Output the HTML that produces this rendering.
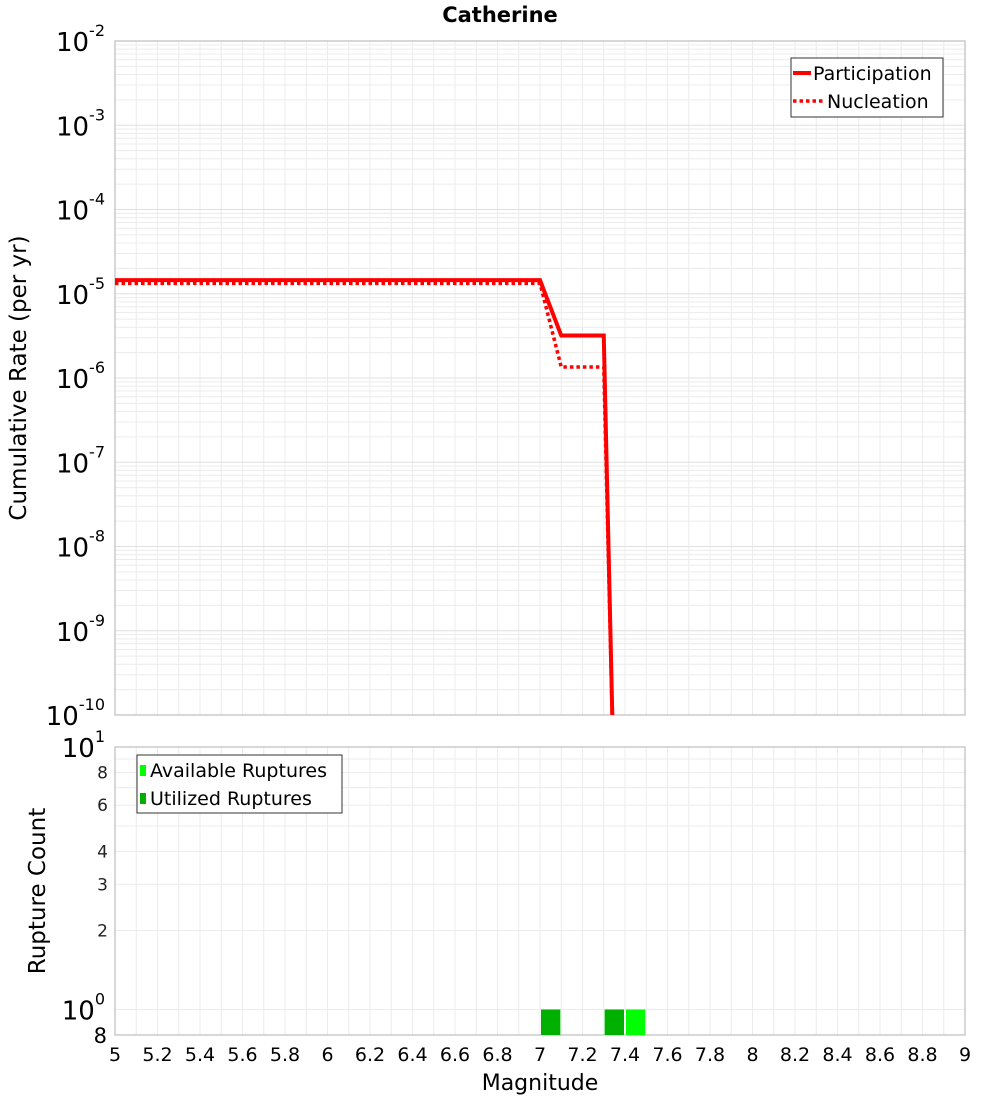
<!DOCTYPE html>
<html><head><meta charset="utf-8"><style>
body{margin:0;background:#fff;font-family:"Liberation Sans","DejaVu Sans",sans-serif}
svg text{font-family:"DejaVu Sans","Liberation Sans",sans-serif}
</style></head><body>
<svg id="c" width="1000" height="1100" xmlns="http://www.w3.org/2000/svg"></svg>
<script>
const mags=[5.0,7.0,7.1,7.3,7.35];
const participation=[1.45e-5,1.45e-5,3.2e-6,3.2e-6,8e-12];
const nucleation=[1.33e-5,1.33e-5,1.35e-6,1.35e-6,8e-12];
const availMags=[7.05,7.35,7.45];
const availCounts=[1,1,1];
const usedMags=[7.05,7.35];
const usedCounts=[1,1];
const xTicks=[5,5.2,5.4,5.6,5.8,6,6.2,6.4,6.6,6.8,7,7.2,7.4,7.6,7.8,8,8.2,8.4,8.6,8.8,9];
const yExps=[-2,-3,-4,-5,-6,-7,-8,-9,-10];
const countTicks=[2,3,4,6,8];

const S=document.getElementById('c'),NS='http://www.w3.org/2000/svg';
function mk(t,a,p){const e=document.createElementNS(NS,t);for(const k in a)e.setAttribute(k,a[k]);(p||S).appendChild(e);return e;}
const L=115,R=965,T1=41,B1=715,T2=747,B2=1035;
const X=m=>L+(m-5)/4*(R-L);
const Y1=v=>T1+(-2-Math.log10(v))*(B1-T1)/8;
const D2=262.5;const Y2=v=>T2+(1-Math.log10(v))*D2;

const defs=mk('defs',{});
const c1=mk('clipPath',{id:'c1'},defs);mk('rect',{x:L,y:T1,width:R-L,height:B1-T1},c1);
const c2=mk('clipPath',{id:'c2'},defs);mk('rect',{x:L,y:T2,width:R-L,height:B2-T2},c2);

for(let i=0;i<=40;i++){const x=L+i*(R-L)/40;const g=mk('line',{x1:x,x2:x,y1:T1,y2:B1,stroke:'#ececec','stroke-width':1});

}
for(let e=-10;e<-2;e++)for(let k=1;k<10;k++){const y=Y1(k*Math.pow(10,e));const g=mk('line',{x1:L,x2:R,y1:y,y2:y,stroke:k==1?'#e0e0e0':'#ececec','stroke-width':1});

}
for(let i=0;i<=40;i++){const x=L+i*(R-L)/40;const g=mk('line',{x1:x,x2:x,y1:T2,y2:B2,stroke:'#ececec','stroke-width':1});

}
for(let k=1;k<10;k++){const y=Y2(k);const g=mk('line',{x1:L,x2:R,y1:y,y2:y,stroke:'#ececec','stroke-width':1});

}

let f=mk('rect',{x:L,y:T1,width:R-L,height:B1-T1,fill:'none',stroke:'#b0b0b0'});

f=mk('rect',{x:L,y:T2,width:R-L,height:B2-T2,fill:'none',stroke:'#b0b0b0'});


function pts(xs,ys,fy){return xs.map((m,i)=>X(m)+','+fy(ys[i])).join(' ');}
let p=mk('polyline',{points:pts(mags,nucleation,Y1),fill:'none',stroke:'#ff0000','stroke-width':3.5,'stroke-dasharray':'3.5,3','clip-path':'url(#c1)'});

p=mk('polyline',{points:pts(mags,participation,Y1),fill:'none',stroke:'#ff0000','stroke-width':4,'clip-path':'url(#c1)'});


const bw=(R-L)/40;
availMags.forEach((m,i)=>{const y=Y2(availCounts[i]);const b=mk('rect',{x:X(m)-bw/2+1,y:y,width:bw-2,height:B2-y,fill:'#00ff00','clip-path':'url(#c2)'});
});
usedMags.forEach((m,i)=>{const y=Y2(usedCounts[i]);const b=mk('rect',{x:X(m)-bw/2+1,y:y,width:bw-2,height:B2-y,fill:'#00b000','clip-path':'url(#c2)'});
});

xTicks.forEach(t=>{const e=mk('text',{x:X(t),y:1061,'font-size':19,'text-anchor':'middle',fill:'#000'});e.textContent=String(t);
});
yExps.forEach(ex=>{const y=Y1(Math.pow(10,ex));const e=mk('text',{x:105,y:y+10,'font-size':26,'text-anchor':'end',fill:'#000'});
e.textContent='10';
const s=mk('tspan',{dy:-15,'font-size':16},e);s.textContent=String(ex);});
let e=mk('text',{x:105,y:Y2(10)+10,'font-size':26,'text-anchor':'end'});e.textContent='10';

let s=mk('tspan',{dy:-15,'font-size':16},e);s.textContent='1';
e=mk('text',{x:105,y:Y2(1)+10,'font-size':26,'text-anchor':'end'});e.textContent='10';

s=mk('tspan',{dy:-15,'font-size':16},e);s.textContent='0';
e=mk('text',{x:107,y:1043,'font-size':21,'text-anchor':'end'});e.textContent='8';

countTicks.forEach(c=>{const t=mk('text',{x:108,y:Y2(c)+6,'font-size':17,'text-anchor':'end',fill:'#222'});t.textContent=String(c);
});

e=mk('text',{x:500,y:22,'font-size':21,'font-weight':'bold','text-anchor':'middle'});e.textContent='Catherine';

e=mk('text',{x:540,y:1090,'font-size':22,'text-anchor':'middle'});e.textContent='Magnitude';

e=mk('text',{x:0,y:0,'font-size':23,'text-anchor':'middle',transform:'translate(26,378) rotate(-90)'});e.textContent='Cumulative Rate (per yr)';

e=mk('text',{x:0,y:0,'font-size':23,'text-anchor':'middle',transform:'translate(45,891) rotate(-90)'});e.textContent='Rupture Count';


let g=mk('g',{});
mk('rect',{x:791,y:58,width:152,height:59,fill:'#fff',stroke:'#333'},g);
mk('line',{x1:793,x2:811,y1:73,y2:73,stroke:'#f00','stroke-width':4},g);
mk('line',{x1:793,x2:825,y1:101,y2:101,stroke:'#f00','stroke-width':3.5,'stroke-dasharray':'3.5,3'},g);
e=mk('text',{x:813,y:80,'font-size':19},g);e.textContent='Participation';

e=mk('text',{x:827,y:108,'font-size':19},g);e.textContent='Nucleation';

g=mk('g',{});
mk('rect',{x:137,y:755,width:205,height:58,fill:'#fff',stroke:'#333'},g);
mk('rect',{x:140,y:765,width:6,height:11,fill:'#00ff00'},g);
mk('rect',{x:140,y:793,width:6,height:11,fill:'#00b000'},g);
e=mk('text',{x:150,y:777,'font-size':19},g);e.textContent='Available Ruptures';

e=mk('text',{x:150,y:805,'font-size':19},g);e.textContent='Utilized Ruptures';

</script>
</body></html>
